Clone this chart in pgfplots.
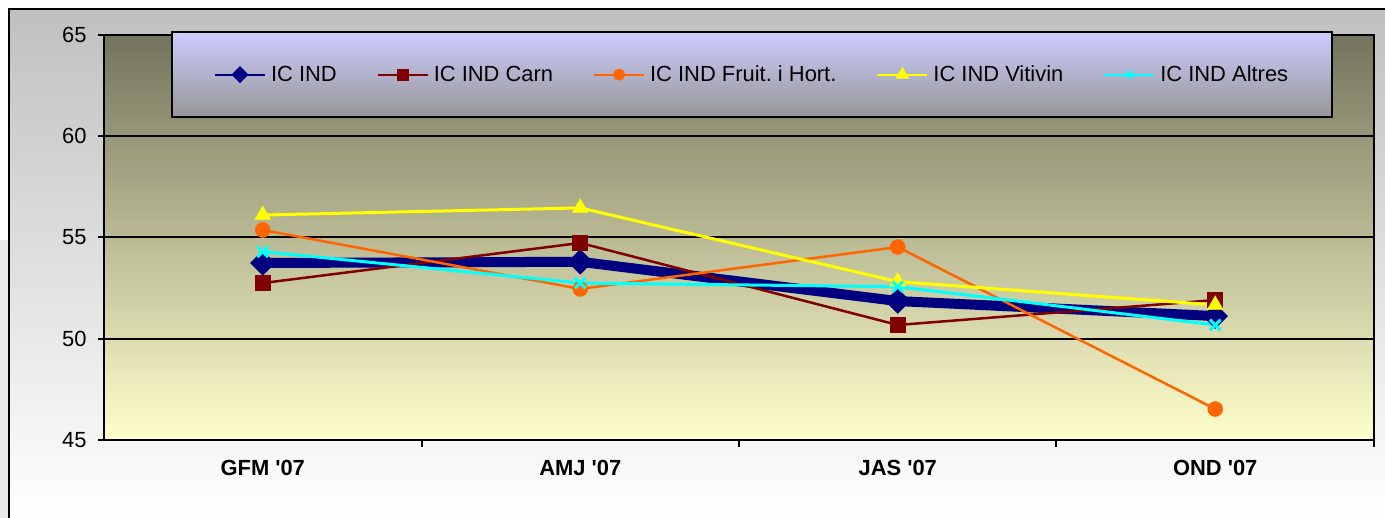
\documentclass[border=0pt]{standalone}
\usepackage{fontspec}
\setmainfont{Liberation Sans}
\usepackage{pgfplots}
\pgfplotsset{compat=1.18}
\definecolor{navyc}{RGB}{0,0,128}
\definecolor{carnc}{RGB}{128,0,0}
\definecolor{fruitc}{RGB}{255,102,0}
\definecolor{vitic}{RGB}{255,255,0}
\definecolor{altc}{RGB}{0,255,255}
\definecolor{bgtop}{RGB}{116,116,94}
\definecolor{bgbot}{RGB}{255,255,204}
\definecolor{legtop}{RGB}{204,204,255}
\definecolor{legbot}{RGB}{150,150,150}
\frenchspacing
\begin{document}
\begin{tikzpicture}[x=1bp,y=1bp]
\useasboundingbox (0,0) rectangle (1385,518);
\fill[white] (0,0) rectangle (1385,518);
\fill[black!9] (0,0) rectangle (9,278);
\shade[top color={rgb,255:red,192;green,192;blue,192}, bottom color=white] (9,0) rectangle (1395,509);
\draw[black, line width=2bp] (9,-5) -- (9,509) -- (1395,509);
\begin{axis}[
  at={(104bp,78bp)}, anchor=south west,
  scale only axis, width=1270bp, height=405bp,
  xmin=-0.5, xmax=3.5, ymin=45, ymax=65,
  xtick={0,1,2,3},
  xticklabels={GFM \textquotesingle07, AMJ \textquotesingle07, JAS \textquotesingle07, OND \textquotesingle07},
  minor xtick={0.5,1.5,2.5,3.5},
  ytick={45,50,55,60,65},
  xtick pos=bottom, ytick pos=left,
  tick align=outside,
  major tick length=6bp, minor tick length=7bp,
  x tick style={draw=none},
  minor x tick style={draw=black, line width=2bp},
  y tick style={black, line width=2bp},
  ymajorgrids, grid style={black, line width=2bp},
  axis line style={black, line width=2bp},
  /pgf/number format/assume math mode=true,
  yticklabel style={font=\fontsize{22}{22}\selectfont, xshift=-8bp},
  xticklabel style={font=\fontsize{22}{22}\selectfont\bfseries, yshift=-11bp},
  axis background/.style={shade, top color=bgtop, bottom color=bgbot},
  clip=false,
  legend columns=5,
  legend image code/.code={\draw[mark repeat=2,mark phase=2] plot coordinates {(0bp,0bp) (25bp,0bp) (50bp,0bp)};},
  legend style={at={(0.0528,1.0099)}, anchor=north west,
    draw=black, line width=2bp, shade, top color=legtop, bottom color=legbot,
    inner xsep=42bp, inner ysep=32bp,
    font=\fontsize{22}{26}\selectfont,
    /tikz/every odd column/.append style={column sep=3bp},
    /tikz/every even column/.append style={column sep=38bp}},
]
\addlegendimage{navyc, line width=2bp, mark=square*, mark size=5bp, mark options={rotate=45, solid}}
\addlegendentry{IC IND}
\addlegendimage{carnc, line width=2bp, mark=square*, mark size=5bp}
\addlegendentry{IC IND Carn}
\addlegendimage{fruitc, line width=2bp, mark=*, mark size=5bp}
\addlegendentry{IC IND Fruit. i Hort.}
\addlegendimage{vitic, line width=2bp, mark=triangle*, mark size=6bp}
\addlegendentry{IC IND Vitivin}
\addlegendimage{altc, line width=2bp, mark=x, mark size=5bp}
\addlegendentry{IC IND Altres}

\addplot[forget plot, navyc, line width=10bp, mark=square*, mark size=8.5bp, mark options={rotate=45, line width=1bp}]
  coordinates {(0,53.74) (1,53.80) (2,51.86) (3,51.12)};
\addplot[forget plot, carnc, line width=2.5bp, mark=square*, mark size=7.5bp, mark options={line width=0.5bp}]
  coordinates {(0,52.75) (1,54.73) (2,50.68) (3,51.91)};
\addplot[forget plot, fruitc, line width=2.5bp, mark=*, mark size=7.5bp, mark options={line width=0.5bp}]
  coordinates {(0,55.37) (1,52.46) (2,54.53) (3,46.53)};
\addplot[forget plot, vitic, line width=3bp, mark=triangle*, mark size=9bp, mark options={line width=0.5bp}]
  coordinates {(0,56.11) (1,56.46) (2,52.82) (3,51.67)};
\addplot[forget plot, altc, line width=3bp, mark=x, mark size=7.5bp, mark options={line width=3bp}]
  coordinates {(0,54.30) (1,52.75) (2,52.57) (3,50.68)};
\end{axis}
\end{tikzpicture}
\end{document}
